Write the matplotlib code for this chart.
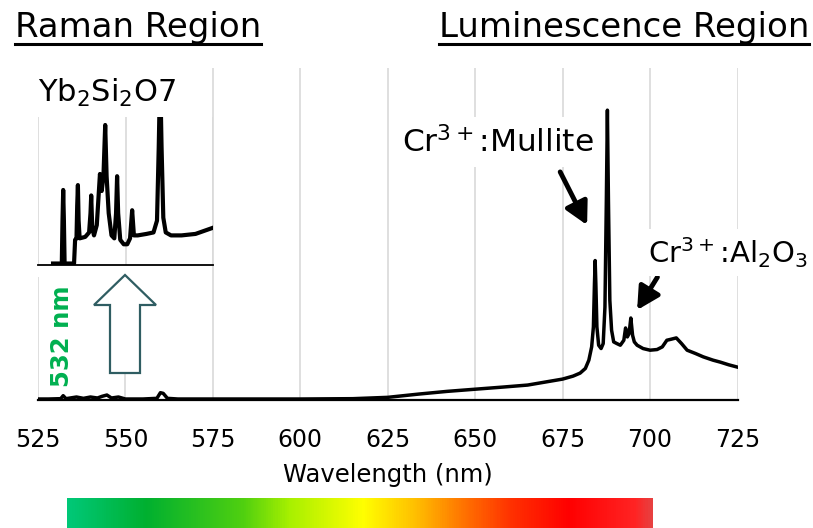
import numpy as np
import matplotlib
matplotlib.use("Agg")
import matplotlib.pyplot as plt
from matplotlib.patches import Polygon, Rectangle
from matplotlib.lines import Line2D
from matplotlib.colors import LinearSegmentedColormap

plt.rcParams["font.family"] = ["DejaVu Sans"]
plt.rcParams["mathtext.fontset"] = "dejavusans"

# ---- full spectrum (wavelength in nm, intensity in a.u.) ----
main_nm = [525.0, 528.0, 531.5, 532.2, 533.0, 536.0, 538.0, 540.0, 542.0, 543.3,
           544.7, 546.0, 548.0, 550.0, 555.0, 559.0, 560.0, 560.8, 562.0, 565.0,
           580.0, 600.0, 615.0, 625.0, 634.0, 642.0, 650.6, 658.0, 665.0, 670.0,
           675.0, 678.0, 680.0, 681.5, 682.5, 683.3, 683.8, 684.1, 684.3, 684.5,
           684.8, 685.3, 686.0, 686.6, 687.1, 687.5, 687.8, 688.1, 688.5, 689.0,
           689.6, 690.5, 691.5, 692.5, 693.0, 693.5, 694.0, 694.5, 695.0, 695.5,
           696.3, 698.0, 700.0, 702.0, 703.5, 704.8, 706.0, 707.5, 709.0, 710.6,
           713.0, 715.2, 718.0, 720.1, 722.5, 725.0]
main_int = [0.3, 0.3, 0.4, 1.3, 0.4, 0.9, 0.5, 0.9, 0.6, 1.1,
            1.5, 0.6, 0.9, 0.3, 0.3, 0.5, 2.2, 2.0, 0.5, 0.3,
            0.3, 0.3, 0.4, 0.8, 1.8, 2.6, 3.3, 3.9, 4.5, 5.4,
            6.3, 7.2, 8.1, 9.5, 12.0, 16.0, 22.0, 35.0, 42.0, 35.0,
            22.0, 16.5, 15.5, 17.0, 28.0, 60.0, 87.3, 60.0, 30.0, 21.0,
            17.5, 17.0, 16.5, 18.0, 21.7, 19.0, 20.0, 24.7, 19.5, 17.5,
            16.5, 15.5, 15.0, 15.2, 16.0, 18.0, 18.3, 18.7, 17.0, 15.0,
            14.0, 13.0, 12.0, 11.4, 10.6, 9.9]

# ---- magnified Raman region of Yb2Si2O7 ----
raman_nm = [529.3, 531.8, 532.0, 532.2, 532.4, 532.6, 535.3, 535.6, 536.0, 536.2,
            536.4, 536.6, 536.9, 538.5, 539.6, 540.0, 540.2, 540.5, 541.0, 541.8,
            542.4, 542.7, 543.2, 543.7, 544.2, 544.6, 545.2, 546.0, 546.8, 547.3,
            547.6, 547.9, 548.5, 549.5, 550.5, 551.3, 551.9, 552.4, 553.5, 556.0,
            558.0, 559.0, 559.5, 559.9, 560.3, 560.8, 561.5, 563.0, 566.0, 570.0,
            574.8]
raman_int = [1.0, 1.0, 30.0, 50.7, 30.0, 1.0, 1.0, 17.0, 18.0, 40.0,
             54.0, 30.0, 18.0, 19.0, 22.0, 35.0, 47.0, 25.0, 20.0, 27.0,
             50.0, 61.5, 50.0, 60.0, 94.6, 60.0, 35.0, 20.0, 18.0, 35.0,
             60.0, 35.0, 17.0, 14.0, 14.0, 18.0, 37.0, 20.0, 20.0, 21.0,
             22.0, 30.0, 80.0, 130.0, 80.0, 32.0, 22.0, 20.0, 20.0, 21.0,
             25.0]

tick_nm = [525, 550, 575, 600, 625, 650, 675, 700, 725]
tick_labels = [str(t) for t in tick_nm]
inset_ticks = [525, 550, 575]

# visible-light strip
strip_nm = (533.3, 700.9)
strip_pos = [0.0, 0.133, 0.30, 0.38, 0.505, 0.594, 0.681, 0.761, 0.858, 0.973, 1.0]
strip_col = ["#00C878", "#00B030", "#50D010", "#A8F000", "#FFFF00", "#FFC000",
             "#FF7000", "#FF3000", "#FF0000", "#FF2424", "#E84040"]

W, H = 813, 528


def fx(px):
    return px / W


def fy(py):
    return 1 - py / H


fig = plt.figure(figsize=(W / 100, H / 100), dpi=100)

# ---- main spectrum axes ----
ax = fig.add_axes([fx(38), fy(400), (737.5 - 38) / W, (400 - 68) / H])
ax.plot(main_nm, main_int, color="black", lw=2.5, zorder=3,
        solid_joinstyle="round")
ax.set_xlim(525, 725)
ax.set_ylim(0, 100)
ax.set_xticks(tick_nm)
ax.set_xticklabels(tick_labels)
ax.tick_params(axis="x", length=0, pad=20, labelsize=17)
ax.set_yticks([])
for side in ["left", "right", "top"]:
    ax.spines[side].set_visible(False)
ax.spines["bottom"].set_linewidth(1.6)
ax.grid(axis="x", color="#d9d9d9", lw=1.2)
ax.set_axisbelow(True)
ax.set_xlabel("Wavelength (nm)", fontsize=17.5, labelpad=8)

# white panel behind the inset
fig.add_artist(Rectangle((fx(28), fy(277)), (211 - 28) / W, (277 - 55) / H,
                         transform=fig.transFigure, fc="white", ec="none",
                         zorder=1))

# ---- inset: Raman region ----
ins = fig.add_axes([fx(38), fy(265), 175 / W, (265 - 117) / H], zorder=2)
ins.set_facecolor("none")
ins.plot(raman_nm, raman_int, color="black", lw=3.0, solid_joinstyle="round")
ins.set_xlim(525, 575)
ins.set_ylim(0, 100)
ins.set_xticks(inset_ticks)
ins.set_xticklabels([])
ins.tick_params(axis="x", length=0)
ins.set_yticks([])
for side in ["left", "right", "top"]:
    ins.spines[side].set_visible(False)
ins.spines["bottom"].set_linewidth(1.3)
ins.grid(axis="x", color="#d9d9d9", lw=1.2)
ins.set_axisbelow(True)

fig.text(fx(38), fy(102), r"Yb$_2$Si$_2$O7", fontsize=22, ha="left",
         va="baseline", zorder=4)

# ---- peak labels ----
fig.text(fx(402), fy(152), r"Cr$^{3+}$:Mullite", fontsize=22.5, ha="left",
         va="baseline", zorder=4,
         bbox=dict(boxstyle="square,pad=0.28", fc="white", ec="none"))
fig.text(fx(808), fy(263), r"Cr$^{3+}$:Al$_2$O$_3$", fontsize=21, ha="right",
         va="baseline", zorder=4,
         bbox=dict(boxstyle="square,pad=0.2", fc="white", ec="none"))

arrow_style = dict(arrowstyle="-|>,head_length=0.75,head_width=0.4", lw=3.5,
                   color="black", mutation_scale=18, shrinkA=0, shrinkB=0)
ax.annotate("", xy=(682.0, 52.7), xytext=(674.3, 68.7), arrowprops=arrow_style)
ax.annotate("", xy=(696.3, 27.1), xytext=(702.1, 37.0), arrowprops=arrow_style)

# ---- excitation marker ----
fig.text(fx(62), fy(336), "532 nm", rotation=90, color="#00B050",
         fontweight="bold", fontsize=17.5, ha="center", va="center", zorder=4)
arrow_px = [(125, 275), (156, 305), (140, 305), (140, 373), (110, 373),
            (110, 305), (94, 305)]
fig.add_artist(Polygon([(fx(x), fy(y)) for x, y in arrow_px], closed=True,
                       transform=fig.transFigure, fc="white", ec="#2F5D62",
                       lw=1.6, zorder=4))

# ---- region headings ----
t1 = fig.text(fx(15), fy(37), "Raman Region", fontsize=24.5, ha="left",
              va="baseline")
t2 = fig.text(fx(809), fy(37), "Luminescence Region", fontsize=24.5,
              ha="right", va="baseline")
fig.canvas.draw()
renderer = fig.canvas.get_renderer()
for t in (t1, t2):
    bb = t.get_window_extent(renderer)
    fig.add_artist(Line2D([bb.x0 / W, bb.x1 / W], [fy(44), fy(44)],
                          transform=fig.transFigure, color="black", lw=2.2))

# ---- visible spectrum strip ----
cmap = LinearSegmentedColormap.from_list("visible",
                                         list(zip(strip_pos, strip_col)))
cax = fig.add_axes([fx(67), 0, (653 - 67) / W, 30 / H])
cax.imshow(np.linspace(0, 1, 600)[None, :], aspect="auto", cmap=cmap,
           extent=[strip_nm[0], strip_nm[1], 0, 1])
cax.axis("off")

fig.savefig("out.png", dpi=100)
